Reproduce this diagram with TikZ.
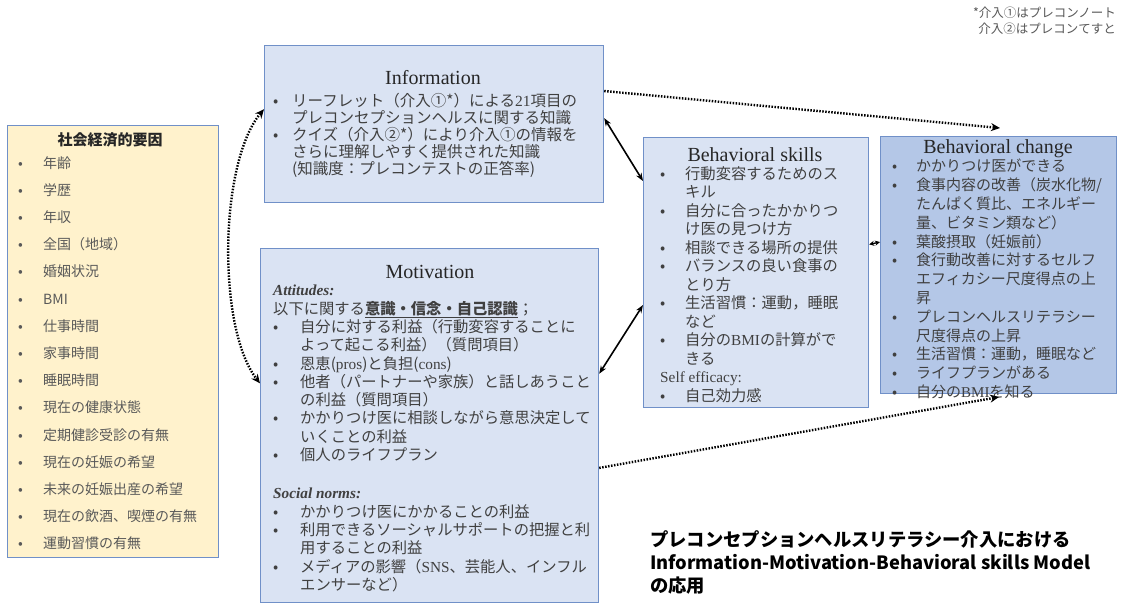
\documentclass[tikz,border=0pt]{standalone}
\usepackage{fontspec}
\setmainfont{Liberation Serif}
\newfontfamily\jp{Noto Sans CJK JP}
\usetikzlibrary{arrows.meta,calc}
\definecolor{bfill}{HTML}{DAE3F3}
\definecolor{cfill}{HTML}{B4C7E7}
\definecolor{yfill}{HTML}{FFF2CC}
\definecolor{bline}{HTML}{7090C8}
\definecolor{tgray}{HTML}{404040}
\definecolor{lgray}{HTML}{595959}
\newcommand\bl[2][24pt]{\makebox[#1][l]{•}#2}
\newcommand\cl[2][24pt]{\hspace*{#1}#2}
\newcommand\E[1]{{\rmfamily #1}}
\tikzset{
  box/.style={draw=bline, line width=1.2pt, inner sep=0pt, anchor=north west},
  ttl/.style={font=\rmfamily\fontsize{20}{24}\selectfont, text=black!85, inner sep=0pt},
  body/.style={anchor=north west, inner sep=0pt, align=left, text=tgray, font=\jp\fontsize{15.3}{18.5}\selectfont},
  dots/.style={line width=2.4pt, dash pattern=on 1.5pt off 1.5pt, -{Stealth[length=9pt,width=8pt]}},
  dbl/.style={line width=1.6pt, {Stealth[length=8pt,width=6pt]}-{Stealth[length=8pt,width=6pt]}},
}
\begin{document}
\begin{tikzpicture}[x=1pt, y=-1pt]
\fill[white] (0,0) rectangle (1122,605);
\useasboundingbox (0,0) rectangle (1122,605);

% boxes
\node[box, fill=yfill, minimum width=211pt, minimum height=432pt] (socio) at (7,125) {};
\node[box, fill=bfill, minimum width=339pt, minimum height=157pt] (info) at (264,45) {};
\node[box, fill=bfill, minimum width=338pt, minimum height=354pt] (mot) at (260,248) {};
\node[box, fill=bfill, minimum width=225pt, minimum height=270pt] (skills) at (643,137) {};
\node[box, fill=cfill, minimum width=236pt, minimum height=257pt] (change) at (880,136) {};

% socio-economic
\node[inner sep=0pt, font=\jp\bfseries\fontsize{15}{18}\selectfont, text=black!85] (sociottl) at (110,140) {社会経済的要因};
\node[body, text=lgray, font=\jp\fontsize{14}{27.2}\selectfont] (sociotxt) at (18,156) {%
\bl[25pt]{年齢}\\
\bl[25pt]{学歴}\\
\bl[25pt]{年収}\\
\bl[25pt]{全国（地域）}\\
\bl[25pt]{婚姻状況}\\
\bl[25pt]{BMI}\\
\bl[25pt]{仕事時間}\\
\bl[25pt]{家事時間}\\
\bl[25pt]{睡眠時間}\\
\bl[25pt]{現在の健康状態}\\
\bl[25pt]{定期健診受診の有無}\\
\bl[25pt]{現在の妊娠の希望}\\
\bl[25pt]{未来の妊娠出産の希望}\\
\bl[25pt]{現在の飲酒、喫煙の有無}\\
\bl[25pt]{運動習慣の有無}};

% information
\node[ttl] (infottl) at (433,78) {Information};
\node[body, font=\jp\fontsize{15.5}{17}\selectfont] (infotxt) at (273,93) {%
\bl[19pt]{リーフレット（介入①*）による\E{21}項目の}\\
\cl[19pt]{プレコンセプションヘルスに関する知識}\\
\bl[19pt]{クイズ（介入②*）により介入①の情報を}\\
\cl[19pt]{さらに理解しやすく提供された知識}\\
\cl[19pt]{(知識度：プレコンテストの正答率)}};

% motivation
\node[ttl] (motttl) at (430,272) {Motivation};
\node[body, font=\jp\fontsize{15.3}{18.3}\selectfont] (mottxt) at (273,285) {%
{\rmfamily\bfseries\itshape Attitudes:}\\
以下に関する\underline{\textbf{意識・信念・自己認識}}；\\
\bl[27pt]{自分に対する利益（行動変容することに}\\
\cl[27pt]{よって起こる利益）（質問項目）}\\
\bl[27pt]{恩恵(\E{pros})と負担(\E{cons})}\\
\bl[27pt]{他者（パートナーや家族）と話しあうこと}\\
\cl[27pt]{の利益（質問項目）}\\
\bl[27pt]{かかりつけ医に相談しながら意思決定して}\\
\cl[27pt]{いくことの利益}\\
\bl[27pt]{個人のライフプラン}\\[20pt]
{\rmfamily\bfseries\itshape Social norms:}\\
\bl[27pt]{かかりつけ医にかかることの利益}\\
\bl[27pt]{利用できるソーシャルサポートの把握と利}\\
\cl[27pt]{用することの利益}\\
\bl[27pt]{メディアの影響（\E{SNS}、芸能人、インフル}\\
\cl[27pt]{エンサーなど）}};

% behavioral skills
\node[ttl] (skillsttl) at (755,155) {Behavioral skills};
\node[body] (skillstxt) at (660,166) {%
\bl[25pt]{行動変容するためのス}\\
\cl[25pt]{キル}\\
\bl[25pt]{自分に合ったかかりつ}\\
\cl[25pt]{け医の見つけ方}\\
\bl[25pt]{相談できる場所の提供}\\
\bl[25pt]{バランスの良い食事の}\\
\cl[25pt]{とり方}\\
\bl[25pt]{生活習慣：運動，睡眠}\\
\cl[25pt]{など}\\
\bl[25pt]{自分の\E{BMI}の計算がで}\\
\cl[25pt]{きる}\\
{\rmfamily Self efficacy:}\\
\bl[25pt]{自己効力感}};

% behavioral change
\node[ttl] (changettl) at (998,149) {Behavioral change};
\node[body, font=\jp\fontsize{15}{18.8}\selectfont] (changetxt) at (892,159) {%
\bl{かかりつけ医ができる}\\
\bl{食事内容の改善（炭水化物/}\\
\cl{たんぱく質比、エネルギー}\\
\cl{量、ビタミン類など）}\\
\bl{葉酸摂取（妊娠前）}\\
\bl{食行動改善に対するセルフ}\\
\cl{エフィカシー尺度得点の上}\\
\cl{昇}\\
\bl{プレコンヘルスリテラシー}\\
\cl{尺度得点の上昇}\\
\bl{生活習慣：運動，睡眠など}\\
\bl{ライフプランがある}\\
\bl{自分の\E{BMI}を知る}};

% note and caption
\node[anchor=north east, inner sep=0pt, align=right, text=lgray, font=\jp\fontsize{12.5}{16}\selectfont] (note) at (1116,7) {*介入①はプレコンノート\\介入②はプレコンてすと};
\node[anchor=north west, inner sep=0pt, align=left, text=black, font=\jp\bfseries\fontsize{18.3}{23}\selectfont] (caption) at (650,530) {プレコンセプションヘルスリテラシー介入における\\Information-Motivation-Behavioral skills Model\\の応用};

% connectors
\coordinate (c1) at (1000,128);
\coordinate (c2) at (999,397);
\draw[dots, {Stealth[length=9pt,width=8pt]}-{Stealth[length=9pt,width=8pt]}] (info.175) to[out=230, in=128, looseness=0.65] (mot.166);
\draw[dbl] (info.2) -- (skills.141);
\draw[dbl] (mot.17) -- (skills.196);
\draw[line width=1.4pt, {Stealth[length=5pt,width=5pt]}-{Stealth[length=5pt,width=5pt]}] (skills.14.5) -- (change.169.7);
\draw[dots] (info.11) -- (c1);
\draw[dots] (mot.346) -- (c2);
\end{tikzpicture}
\end{document}
